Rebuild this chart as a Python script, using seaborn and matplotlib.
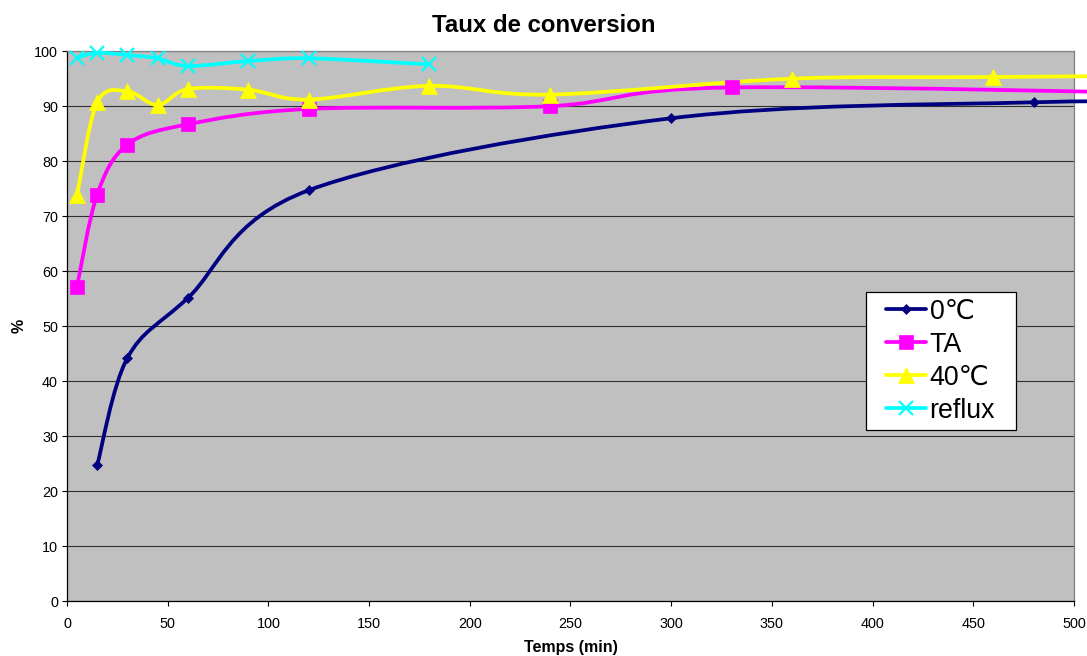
import numpy as np
import pandas as pd
import seaborn as sns
import matplotlib.pyplot as plt
from matplotlib.path import Path
from matplotlib.patches import PathPatch
from matplotlib.lines import Line2D
from matplotlib.legend_handler import HandlerLine2D

# Data (time in min, conversion in %)
t_0c = [15, 30, 60, 120, 300, 480, 600]
y_0c = [24.7, 44.2, 55.1, 74.7, 87.8, 90.7, 90.8]

t_ta = [5, 15, 30, 60, 120, 240, 330, 600]
y_ta = [57.2, 73.9, 83.0, 86.7, 89.5, 90.0, 93.4, 92.0]

t_40c = [5, 15, 30, 45, 60, 90, 120, 180, 240, 360, 460, 600]
y_40c = [73.8, 90.7, 92.7, 90.2, 93.1, 93.0, 91.2, 93.7, 92.1, 95.0, 95.3, 95.7]

t_reflux = [5, 15, 30, 45, 60, 90, 120, 180]
y_reflux = [98.8, 99.7, 99.3, 98.7, 97.3, 98.2, 98.7, 97.6]

labels = ['0\u2103', 'TA', '40\u2103', 'reflux']
colors = ['#000080', '#FF00FF', '#FFFF00', '#00FFFF']

series = [
    (t_0c, y_0c, 'D', 5),
    (t_ta, y_ta, 's', 10.5),
    (t_40c, y_40c, '^', 11),
    (t_reflux, y_reflux, 'x', 10),
]

sns.set_style('white')
plt.rcParams['font.family'] = ['Liberation Sans', 'DejaVu Sans']
plt.rcParams['text.color'] = 'black'
plt.rcParams['axes.labelcolor'] = 'black'
plt.rcParams['xtick.color'] = 'black'
plt.rcParams['ytick.color'] = 'black'


def smooth_path(x, y):
    # Excel-like smoothed line: Catmull-Rom converted to cubic Bezier segments
    pts = np.column_stack([x, y]).astype(float)
    n = len(pts)
    verts = [pts[0]]
    codes = [Path.MOVETO]
    for i in range(n - 1):
        p0 = pts[i - 1] if i > 0 else pts[i]
        p1, p2 = pts[i], pts[i + 1]
        p3 = pts[i + 2] if i + 2 < n else pts[i + 1]
        verts += [p1 + (p2 - p0) / 6, p2 - (p3 - p1) / 6, p2]
        codes += [Path.CURVE4] * 3
    return Path(verts, codes)


fig, ax = plt.subplots(figsize=(10.87, 6.56), dpi=100)
fig.subplots_adjust(left=0.0616, right=0.988, bottom=0.0838, top=0.922)
ax.set_facecolor('#C0C0C0')

handles = []
for (t, y, mk, ms), lab, col in zip(series, labels, colors):
    df = pd.DataFrame({'t': t, 'y': y})
    patch = PathPatch(smooth_path(df['t'], df['y']), facecolor='none',
                      edgecolor=col, lw=2.7, zorder=3, clip_on=False,
                      capstyle='round', joinstyle='round')
    ax.add_patch(patch)
    mew = 1.6 if mk == 'x' else 0.5
    sns.lineplot(data=df, x='t', y='y', ax=ax, marker=mk, markersize=ms,
                 linestyle='', color=col, markeredgecolor=col,
                 markeredgewidth=mew, zorder=4, clip_on=False)
    handles.append(Line2D([], [], color=col, lw=2.7, marker=mk,
                          markersize=ms, markeredgecolor=col,
                          markeredgewidth=mew))

ax.set_xlim(0, 500)
ax.set_ylim(0, 100)
ax.set_xticks(range(0, 501, 50))
ax.set_yticks(range(0, 101, 10))
ax.yaxis.grid(True, color='#303030', lw=0.8)
ax.xaxis.grid(False)
ax.set_axisbelow(True)

for side in ['left', 'bottom']:
    ax.spines[side].set_color('black')
    ax.spines[side].set_linewidth(0.9)
for side in ['top', 'right']:
    ax.spines[side].set_color('#808080')
    ax.spines[side].set_linewidth(0.9)

ax.tick_params(axis='both', direction='out', length=3.5, width=0.8,
               colors='black', labelsize=10.4)
ax.tick_params(axis='y', pad=3)
ax.tick_params(axis='x', pad=8)
ax.tick_params(left=True, bottom=True)

ax.set_xlabel('Temps (min)', fontsize=11.5, fontweight='bold')
ax.set_ylabel('%', fontsize=11.5, fontweight='bold')
ax.xaxis.set_label_coords(0.5, -0.07)
ax.yaxis.set_label_coords(-0.04, 0.5)

fig.text(0.5, 1 - 25 / 656, 'Taux de conversion', ha='center', va='center',
         fontsize=17.3, fontweight='bold')

leg = ax.legend(handles, labels, loc='upper left',
                bbox_to_anchor=(0.793, 0.315, 0.149, 0.247), mode='expand',
                fontsize=19.3, frameon=True, fancybox=False, framealpha=1,
                edgecolor='black', borderpad=0.25, labelspacing=0.26,
                handlelength=1.99, handletextpad=0.15, borderaxespad=0,
                handler_map={Line2D: HandlerLine2D(xpad=0.53)})
leg.get_frame().set_linewidth(0.9)
leg.set_zorder(10)

plt.savefig('out.png', dpi=100)
